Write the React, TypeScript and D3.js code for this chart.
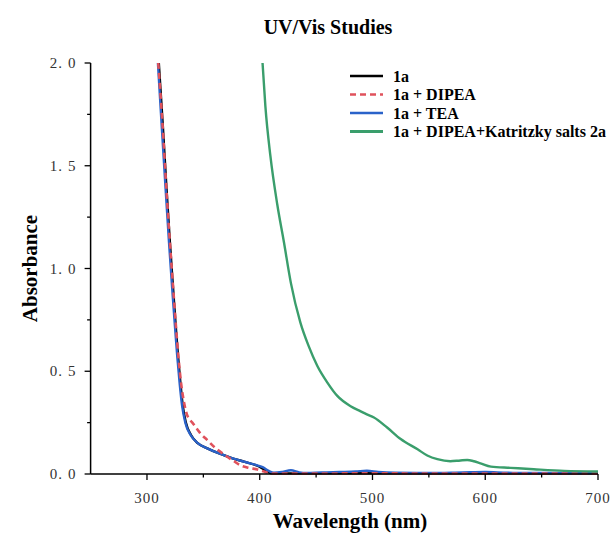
import React from 'react';
import * as d3 from 'd3';

// UV/Vis absorbance spectra
const wl1a = [310.5, 314, 317.3, 320.3, 323.2, 325.5, 327.5, 329.7, 331.8, 334.5, 339, 345, 353.5, 364, 374, 386, 397.8, 403, 410, 420, 450, 500, 550, 600, 650, 700];
const abs1a = [2.0, 1.7, 1.39, 1.13, 0.9, 0.72, 0.576, 0.44, 0.33, 0.25, 0.19, 0.15, 0.125, 0.1, 0.08, 0.06, 0.04, 0.025, 0.004, 0.003, 0.003, 0.004, 0.003, 0.003, 0.003, 0.003];

const wlDipea = [310, 313.8, 317.2, 320.3, 323.3, 325.7, 327.8, 330.3, 332.8, 335.4, 341, 347, 353.5, 360, 368, 377, 383, 390, 398, 405, 410, 450, 500, 550, 600, 700];
const absDipea = [2.0, 1.7, 1.39, 1.13, 0.9, 0.72, 0.576, 0.44, 0.35, 0.29, 0.245, 0.2, 0.165, 0.13, 0.096, 0.063, 0.042, 0.03, 0.022, 0.01, 0.002, 0.002, 0.004, 0.002, 0.002, 0.002];

const wlTea = [309.7, 313, 316.5, 319.5, 322.4, 324.8, 326.8, 329, 331.2, 334, 338.7, 345, 353.5, 364, 374, 386, 397.8, 403, 408, 412.6, 420, 427.6, 435, 442, 455, 471, 485, 495, 505, 520, 550, 580, 600, 620, 650, 700];
const absTea = [2.0, 1.7, 1.39, 1.13, 0.9, 0.72, 0.576, 0.44, 0.33, 0.25, 0.19, 0.15, 0.125, 0.1, 0.08, 0.06, 0.042, 0.032, 0.015, 0.006, 0.01, 0.018, 0.008, 0.005, 0.008, 0.01, 0.012, 0.016, 0.01, 0.006, 0.005, 0.008, 0.01, 0.006, 0.005, 0.005];

const wlKat = [402.5, 405, 409.4, 415.6, 421.4, 427.6, 436, 443.6, 451, 460, 468.8, 480.6, 489.5, 495, 501.3, 513, 525, 540, 548.6, 557.5, 569, 578, 584, 590, 595.8, 605, 622.5, 643, 670, 700];
const absKat = [2.0, 1.79, 1.55, 1.31, 1.13, 0.93, 0.738, 0.62, 0.527, 0.445, 0.38, 0.33, 0.305, 0.29, 0.275, 0.226, 0.17, 0.12, 0.09, 0.072, 0.062, 0.066, 0.068, 0.062, 0.052, 0.036, 0.03, 0.023, 0.015, 0.012];

const seriesNames = ['1a', '1a + DIPEA', '1a + TEA', '1a + DIPEA+Katritzky salts 2a'];
const seriesColors = ['#000000', '#e0525c', '#2a62c9', '#3a9e6c'];

const xMajor = [300, 400, 500, 600, 700];
const xMinor = [350, 450, 550, 650];
const yMajor = [0, 0.5, 1.0, 1.5, 2.0];
const yMinor = [0.25, 0.75, 1.25, 1.75];

const serif = '"Liberation Serif", "Times New Roman", serif';

const App = () => {
  const x = d3.scaleLinear().domain([250, 700]).range([90.6, 598]);
  const y = d3.scaleLinear().domain([0, 2]).range([474, 63]);

  const line = d3.line<[number, number]>()
    .x(d => x(d[0]))
    .y(d => y(d[1]))
    .curve(d3.curveMonotoneX);

  const zip = (a: number[], b: number[]) => a.map((v, i) => [v, b[i]] as [number, number]);
  const series = [
    zip(wl1a, abs1a),
    zip(wlDipea, absDipea),
    zip(wlTea, absTea),
    zip(wlKat, absKat),
  ];
  // drawing order: black, blue, red dashed on top, green
  const order = [0, 2, 1, 3];

  const x0 = x.range()[0];
  const y0 = y.range()[0];

  return (
    <svg width={615} height={536} style={{ position: 'absolute', left: 0, top: 0, background: '#fff', fontFamily: serif }}>
      <text x={328} y={34} textAnchor="middle" style={{ fontFamily: serif }} fontWeight="bold" fontSize={20}>UV/Vis Studies</text>

      {order.map(i => (
        <path key={i} d={line(series[i]) || ''} fill="none" stroke={seriesColors[i]}
          strokeWidth={i === 1 ? 2.6 : 2.4}
          strokeDasharray={i === 1 ? '6,4' : undefined}
          strokeLinejoin="round" />
      ))}

      {/* axes */}
      <line x1={x0} x2={x(700)} y1={y0} y2={y0} stroke="#000" strokeWidth={1.5} />
      <line x1={x0} x2={x0} y1={y0} y2={y(2)} stroke="#000" strokeWidth={1.5} />
      {xMajor.map(t => (
        <g key={'xM' + t}>
          <line x1={x(t)} x2={x(t)} y1={y0} y2={y0 + 6} stroke="#000" strokeWidth={1.3} />
          <text x={x(t)} y={y0 + 29} textAnchor="middle" style={{ fontFamily: serif }} fontSize={15} fill="#333" letterSpacing={1}>{t}</text>
        </g>
      ))}
      {xMinor.map(t => (
        <line key={'xm' + t} x1={x(t)} x2={x(t)} y1={y0} y2={y0 + 3.5} stroke="#000" strokeWidth={1.3} />
      ))}
      {yMajor.map(t => {
        const [a, b] = t.toFixed(1).split('.');
        return (
          <g key={'yM' + t}>
            <line x1={x0} x2={x0 - 6} y1={y(t)} y2={y(t)} stroke="#000" strokeWidth={1.3} />
            <text x={x0 - 14} y={y(t) + 5} textAnchor="end" style={{ fontFamily: serif }} fontSize={15} fill="#333" letterSpacing={1}>
              {a + '.'}<tspan dx={5}>{b}</tspan>
            </text>
          </g>
        );
      })}
      {yMinor.map(t => (
        <line key={'ym' + t} x1={x0} x2={x0 - 3.5} y1={y(t)} y2={y(t)} stroke="#000" strokeWidth={1.3} />
      ))}

      <text x={350} y={528} textAnchor="middle" style={{ fontFamily: serif }} fontWeight="bold" fontSize={21}>Wavelength (nm)</text>
      <text transform={`translate(37,${y(1)}) rotate(-90)`} textAnchor="middle" style={{ fontFamily: serif }} fontWeight="bold" fontSize={21}>Absorbance</text>

      {/* legend */}
      {seriesNames.map((name, i) => {
        const ly = 76 + i * 18.5;
        return (
          <g key={name}>
            <line x1={350} x2={383} y1={ly} y2={ly} stroke={seriesColors[i]}
              strokeWidth={i === 3 ? 3 : 2.6}
              strokeDasharray={i === 1 ? '6,4' : undefined} />
            <text x={393} y={ly + 5.5} style={{ fontFamily: serif }} fontWeight="bold" fontSize={16}>{name}</text>
          </g>
        );
      })}
    </svg>
  );
};

export default App;
